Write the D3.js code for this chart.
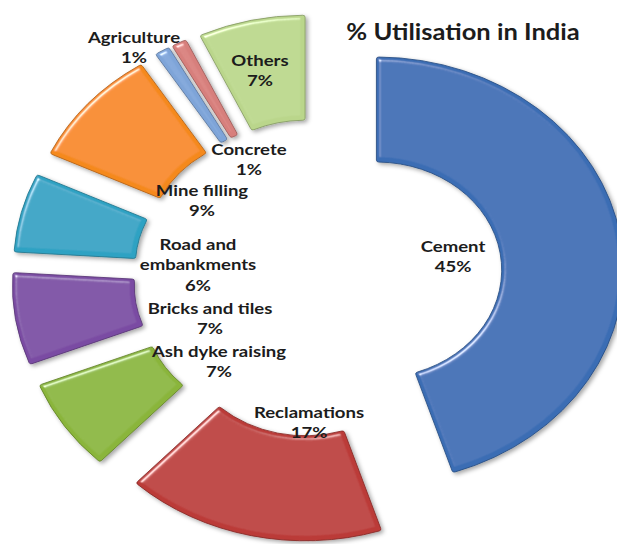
<!DOCTYPE html>
<html>
<head>
<meta charset="utf-8">
<script src="https://cdn.jsdelivr.net/npm/d3@7"></script>
<style>
  body { margin: 0; background: #fff; }
  text { font-family: Lato, "Open Sans", sans-serif; font-weight: bold; fill: #1c1c1c; }
</style>
</head>
<body>
<div id="chart"></div>
<script>
//data
var categories = ["Cement", "Reclamations", "Ash dyke raising", "Bricks and tiles",
  "Road and embankments", "Mine filling", "Concrete", "Agriculture", "Others"];
var values = [45, 17, 7, 7, 6, 9, 1, 1, 7];
var sliceColors = ["#3a6db4", "#bb3b37", "#8ab53b", "#7a4ca3", "#2fa2c3",
  "#f5891f", "#7ea4d8", "#d77f7b", "#bad68b"];

//label lines and where they sit (set by hand in the original chart)
var labelLines = [["Cement"], ["Reclamations"], ["Ash dyke raising"], ["Bricks and tiles"],
  ["Road and", "embankments"], ["Mine filling"], ["Concrete"], ["Agriculture"], ["Others"]];
var labelPos = [[453, 252], [309, 418], [219, 357], [210, 314],
  [198, 250], [202, 196], [249, 155], [134, 43], [260, 66]];

//size and layout
var width = 617, height = 544;
var cx = 318, cy = 278;      //centre of the ring
var stretchX = 1.16;         //whole picture is a bit wider than tall
var innerR = 108, outerR = 213;
var explode = 51;
var lineStep = 20.5;

var color = d3.scaleOrdinal()
  .domain(categories)
  .range(sliceColors);

var pie = d3.pie()
  .sort(null)
  .value(function(d) { return d.value; });

var arc = d3.arc()
  .innerRadius(innerR)
  .outerRadius(outerR)
  .cornerRadius(2);

var data = categories.map(function(c, i) { return {name: c, value: values[i]}; });

var svg = d3.select("#chart").append("svg")
    .attr("width", width)
    .attr("height", height);

//bevel + shadow look
var defs = svg.append("defs");
var f = defs.append("filter")
    .attr("id", "bevel")
    .attr("x", "-20%").attr("y", "-20%")
    .attr("width", "140%").attr("height", "140%");
f.append("feGaussianBlur").attr("in", "SourceAlpha").attr("stdDeviation", 2).attr("result", "blur");
f.append("feSpecularLighting")
    .attr("in", "blur").attr("surfaceScale", 3).attr("specularConstant", 0.7)
    .attr("specularExponent", 40).attr("lighting-color", "#ffffff").attr("result", "spec")
  .append("feDistantLight").attr("azimuth", 235).attr("elevation", 45);
f.append("feComposite").attr("in", "spec").attr("in2", "SourceAlpha").attr("operator", "in").attr("result", "specIn");
f.append("feComposite").attr("in", "SourceGraphic").attr("in2", "specIn")
    .attr("operator", "arithmetic").attr("k1", 0).attr("k2", 1).attr("k3", 1).attr("k4", 0)
    .attr("result", "lit");
f.append("feDropShadow").attr("in", "lit").attr("dx", 2).attr("dy", 2)
    .attr("stdDeviation", 2).attr("flood-opacity", 0.35);

var ring = svg.append("g")
    .attr("transform", "translate(" + cx + "," + cy + ") scale(" + stretchX + ",1)");

var slices = ring.selectAll(".slice")
    .data(pie(data))
  .enter().append("g")
    .attr("class", "slice")
    .attr("transform", function(d) {
      var mid = (d.startAngle + d.endAngle) / 2;
      return "translate(" + (explode * Math.sin(mid)) + "," + (-explode * Math.cos(mid)) + ")";
    });

slices.append("path")
    .attr("d", arc)
    .attr("fill", function(d) { return color(d.data.name); })
    .attr("stroke", function(d) { return d3.color(color(d.data.name)).darker(0.9); })
    .attr("stroke-width", 0.8)
    .attr("filter", "url(#bevel)");

//labels (stretched like the rest of the picture)
var labels = svg.selectAll(".label")
    .data(data)
  .enter().append("text")
    .attr("class", "label")
    .attr("text-anchor", "middle")
    .attr("font-size", 16)
    .attr("transform", function(d, i) {
      return "translate(" + labelPos[i][0] + "," + labelPos[i][1] + ") scale(" + stretchX + ",1)";
    });

labels.each(function(d, i) {
  var t = d3.select(this);
  var lines = labelLines[i].concat([d.value + "%"]);
  lines.forEach(function(s, k) {
    t.append("tspan")
      .attr("x", 0)
      .attr("dy", k === 0 ? 0 : lineStep)
      .text(s);
  });
});

//title
svg.append("text")
    .attr("text-anchor", "middle")
    .attr("font-size", 22)
    .attr("transform", "translate(463,40) scale(" + stretchX + ",1)")
    .text("% Utilisation in India");
</script>
</body>
</html>
